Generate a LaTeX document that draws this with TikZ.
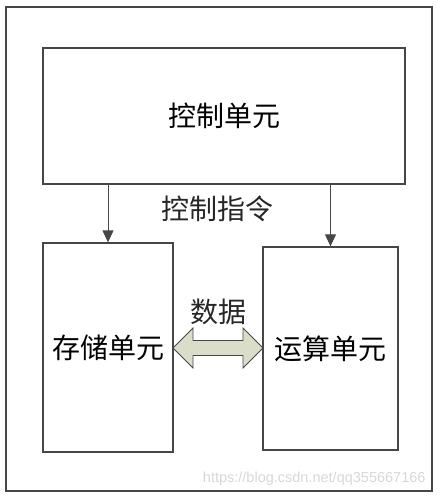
\documentclass[tikz,border=0pt]{standalone}
\usepackage{fontspec}
\usepackage{xcolor}
\usepackage{tikz}
\usetikzlibrary{arrows.meta}
\setmainfont{Liberation Sans}
\newfontfamily\cjk{Noto Sans CJK SC}
\definecolor{line}{RGB}{70,70,70}
\definecolor{sage}{RGB}{218,222,200}
\definecolor{mark}{RGB}{215,215,215}

\begin{document}
\begin{tikzpicture}[x=1pt, y=-1pt,
    box/.style={rectangle, draw=line, line width=1.3pt, fill=white, inner sep=0pt, font=\cjk\fontsize{28}{32}\selectfont},
    arrow/.style={-{Triangle[length=12pt,width=11pt]}, draw=line, line width=1pt},
    label/.style={font=\cjk\fontsize{28}{32}\selectfont, text=black!85}
]
    \useasboundingbox (0,0) rectangle (438,497);
    \draw[line, line width=1.6pt] (6,7) rectangle (432,491);

    \node[box, minimum width=362pt, minimum height=136pt] (ctrl) at (224,116) {控制单元};
    \node[box, minimum width=130pt, minimum height=209pt] (store) at (108,347.5) {存储单元};
    \node[box, minimum width=135pt, minimum height=203pt] (alu) at (330.5,348.5) {运算单元};

    \draw[arrow] (store.north |- ctrl.south) -- (store.north);
    \draw[arrow] (alu.north |- ctrl.south) -- (alu.north);
    \node[label] (cmd) at (217,209) {控制指令};

    % data arrow between the two units
    \draw[draw=line, fill=sage, line width=0.9pt, line join=miter]
        (173,348) -- (193,328) -- (193,340.5) -- (243,340.5) -- (243,328) -- (263,348)
        -- (243,368) -- (243,355.5) -- (193,355.5) -- (193,368) -- cycle;
    \node[label] (data) at (218,312) {数据};

    \node[text=mark, font=\fontsize{14.5}{16}\selectfont, anchor=east] (url) at (429,479) {https://blog.csdn.net/qq355667166};
\end{tikzpicture}
\end{document}
